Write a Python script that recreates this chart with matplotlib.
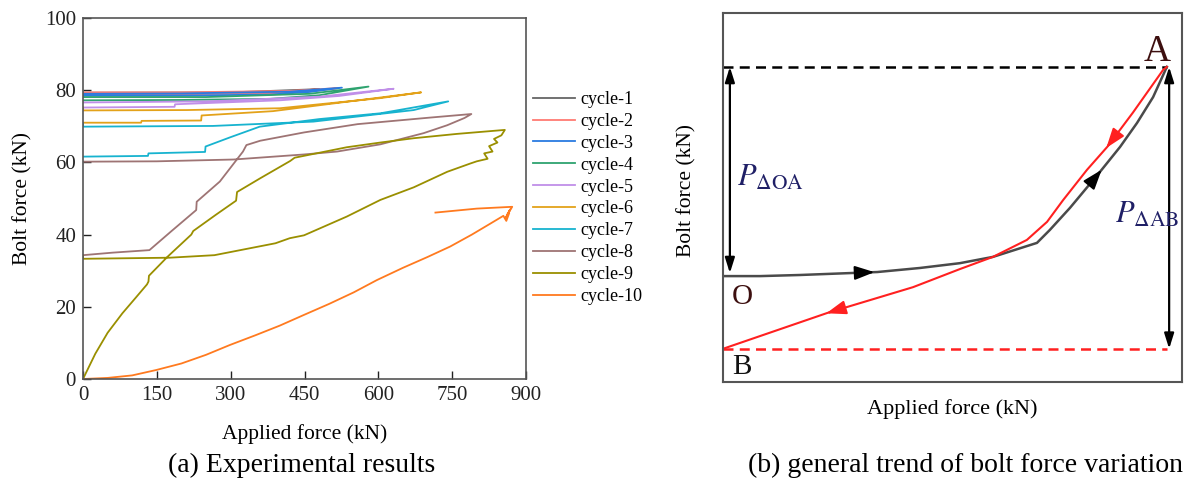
import numpy as np
import matplotlib
matplotlib.use("Agg")
import matplotlib.pyplot as plt
from matplotlib.patches import ArrowStyle

plt.rcParams['font.family'] = ['Liberation Serif', 'DejaVu Serif']
plt.rcParams['mathtext.fontset'] = 'stix'

# ---------------- (a) experimental cycles: applied force (kN) vs bolt force (kN)
cycle_names = [f"cycle-{i}" for i in range(1, 11)]
cycle_colors = ['#666666', '#ff7b73', '#2a7be0', '#2ea36f', '#c08fe8',
                '#e3a21a', '#17b3cf', '#9e7474', '#9a8f00', '#ff7a1f']

c1_x = [0, 200, 400, 480, 300, 0]
c1_y = [79.0, 79.0, 79.4, 80.3, 79.4, 79.3]
c2_x = [0, 200, 400, 470, 520, 420, 200, 0]
c2_y = [78.9, 78.9, 79.2, 79.8, 80.6, 79.8, 79.4, 79.4]
c3_x = [0, 200, 380, 460, 526, 420, 200, 0]
c3_y = [78.5, 78.5, 78.8, 79.5, 80.7, 79.6, 79.1, 79.0]
c4_x = [0, 200, 380, 480, 580, 460, 250, 0]
c4_y = [77.2, 77.3, 77.6, 78.6, 81.0, 79.0, 78.1, 78.1]
c5_x = [0, 186, 187, 400, 520, 631, 480, 250, 0]
c5_y = [75.2, 75.4, 76.1, 77.2, 78.4, 80.4, 78.2, 76.9, 76.6]
c6_x = [0, 118, 119, 240, 241, 386, 536, 687, 604, 400, 211, 0, 0]
c6_y = [71.0, 71.0, 71.5, 71.6, 73.0, 74.2, 76.8, 79.4, 77.8, 75.0, 74.5, 74.4, 75.2]
c7_x = [0, 132, 133, 248, 249, 300, 359, 480, 604, 742, 672, 468, 264, 0, 0]
c7_y = [61.6, 61.8, 62.5, 62.9, 64.4, 67.0, 69.9, 72.0, 73.6, 76.9, 74.5, 71.3,
        70.1, 69.9, 70.8]
c8_x = [0, 60, 135, 180, 230, 231, 278, 325, 332, 360, 449, 558, 704, 789,
        775, 740, 692, 604, 516, 449, 306, 150, 0]
c8_y = [34.3, 35.0, 35.7, 41.0, 46.8, 49.1, 54.7, 63.0, 64.8, 66.0, 68.3, 70.6,
        72.4, 73.4, 72.3, 70.3, 68.1, 65.0, 63.0, 62.2, 60.8, 60.3, 60.2]
c9_x = [0, 25, 50, 80, 107, 130, 133, 134, 172, 220, 224, 270, 311, 313, 360,
        421, 430, 536, 604, 672, 760, 857,
        850, 835, 842, 825, 832, 815, 822, 800, 787,
        740, 672, 604, 536, 449, 420, 391, 267, 176, 0, 0]
c9_y = [0, 7.0, 12.8, 18.2, 22.5, 26.2, 27.0, 28.6, 33.9, 40.0, 41.0, 45.5,
        49.4, 51.8, 55.6, 60.4, 61.3, 64.2, 65.5, 66.7, 67.9, 69.0,
        67.5, 66.5, 65.5, 64.5, 63.0, 62.5, 61.0, 60.3, 59.7,
        57.4, 53.1, 49.6, 45.0, 39.8, 39.0, 37.6, 34.3, 33.6, 33.3, 34.2]
c10_x = [0, 50, 100, 149, 200, 250, 298, 350, 400, 448, 500, 550, 597, 650,
         700, 746, 790, 827, 854, 860, 866, 858, 868, 862, 872, 800, 716]
c10_y = [0, 0.3, 1.0, 2.5, 4.3, 6.7, 9.4, 12.1, 14.8, 17.7, 20.8, 24.0, 27.4,
         30.8, 33.8, 36.7, 40.0, 43.0, 45.2, 43.8, 46.0, 44.5, 47.0, 45.5,
         47.7, 47.2, 46.1]

cycles_x = [c1_x, c2_x, c3_x, c4_x, c5_x, c6_x, c7_x, c8_x, c9_x, c10_x]
cycles_y = [c1_y, c2_y, c3_y, c4_y, c5_y, c6_y, c7_y, c8_y, c9_y, c10_y]

# ---------------- (b) schematic (normalised units 0-100)
load_x = [0, 8.1, 16.8, 33.6, 42.9, 51.6, 58.8, 68.4, 71.2, 75.6, 82.1, 86.5,
          90.2, 93.7, 96.7]
load_y = [28.7, 28.7, 29.0, 29.8, 30.9, 32.2, 33.9, 37.7, 41.2, 47.2, 56.9,
          63.7, 70.2, 77.2, 85.4]
unload_x = [96.7, 95.9, 89.3, 83.7, 79.3, 74.1, 70.6, 66.2, 58.8, 51.6, 41.4,
            22.7, 0]
unload_y = [85.4, 84.6, 73.0, 63.7, 57.5, 49.3, 43.4, 38.5, 33.9, 30.6, 25.7,
            18.7, 9.0]
level_A = 85.4
level_O = 28.7
level_B = 9.0

fig = plt.figure(figsize=(11.92, 4.86), dpi=100)

# ---- left panel
ax1 = fig.add_axes([83 / 1192, 1 - 379 / 486, 443 / 1192, 361 / 486])
for xs, ys, name, col in zip(cycles_x, cycles_y, cycle_names, cycle_colors):
    ax1.plot(xs, ys, color=col, lw=1.3, label=name)
ax1.set_xlim(0, 900)
ax1.set_ylim(0, 100)
ax1.set_xticks(np.arange(0, 901, 150))
ax1.set_yticks(np.arange(0, 101, 20))
ax1.tick_params(direction='in', length=6, width=1, labelsize=15, pad=5,
                colors='#222222')
for sp in ax1.spines.values():
    sp.set_linewidth(1.2)
    sp.set_color('#555555')
ax1.set_xlabel('Applied force (kN)', fontsize=15.5)
ax1.set_ylabel('Bolt force (kN)', fontsize=15.5)
ax1.xaxis.set_label_coords(0.5, -0.125)
ax1.yaxis.set_label_coords(-0.115, 0.5)
ax1.legend(loc='upper left', bbox_to_anchor=(533 / 1192, 1 - 91 / 486),
           bbox_transform=fig.transFigure, frameon=False, fontsize=13,
           handlelength=2.3, handletextpad=0.3, labelspacing=0.27,
           borderpad=0, borderaxespad=0)

# ---- right panel
ax2 = fig.add_axes([723 / 1192, 1 - 382 / 486, 459 / 1192, 369 / 486])
ax2.set_xlim(0, 100)
ax2.set_ylim(0, 100)
ax2.set_xticks([])
ax2.set_yticks([])
for sp in ax2.spines.values():
    sp.set_linewidth(1.5)
    sp.set_color('#555555')

ax2.plot([0, load_x[-1]], [level_A, level_A], color='k', lw=1.8,
         linestyle=(0, (4, 2.5)))
ax2.plot([0, load_x[-1]], [level_B, level_B], color='#ff2020', lw=1.8,
         linestyle=(0, (4, 2.5)))
ax2.plot(load_x, load_y, color='#4a4a4a', lw=1.8)
ax2.plot(unload_x, unload_y, color='#ff2020', lw=1.5)

dbl = ArrowStyle('<|-|>', head_length=0.7, head_width=0.22)
ax2.annotate('', xy=(1.5, level_A), xytext=(1.5, level_O + 0.8),
             arrowprops=dict(arrowstyle=dbl, color='k', lw=1.6,
                             shrinkA=0, shrinkB=0, mutation_scale=13))
ax2.annotate('', xy=(97.2, level_A), xytext=(97.2, level_B),
             arrowprops=dict(arrowstyle=dbl, color='k', lw=1.6,
                             shrinkA=0, shrinkB=0, mutation_scale=13))


def curve_arrow(ax, xs, ys, x_at, color, forward=True):
    order = np.argsort(xs)
    xa = np.asarray(xs)[order]
    ya = np.asarray(ys)[order]
    d = 1.5 if forward else -1.5
    y0 = np.interp(x_at - d, xa, ya)
    y1 = np.interp(x_at, xa, ya)
    head = ArrowStyle('-|>', head_length=0.85, head_width=0.3)
    ax.annotate('', xy=(x_at, y1), xytext=(x_at - d, y0),
                arrowprops=dict(arrowstyle=head, color=color, lw=1.5,
                                shrinkA=0, shrinkB=0, mutation_scale=14))


curve_arrow(ax2, load_x, load_y, 33.0, 'k', True)
curve_arrow(ax2, load_x, load_y, 82.5, 'k', True)
curve_arrow(ax2, unload_x, unload_y, 83.5, '#ff2020', False)
curve_arrow(ax2, unload_x, unload_y, 22.5, '#ff2020', False)

ax2.text(94.6, 89.5, 'A', fontsize=27, color='#3d0f0f', ha='center', va='center')
ax2.text(4.1, 23.0, 'O', fontsize=21, color='#3d0f0f', ha='center', va='center')
ax2.text(4.1, 4.0, 'B', fontsize=21, color='#111111', ha='center', va='center')
ax2.text(3.0, 55.3, r'$P_{\Delta\mathrm{OA}}$', fontsize=22, color='#1f1f66',
         ha='left', va='center')
ax2.text(85.4, 45.3, r'$P_{\Delta\mathrm{AB}}$', fontsize=22, color='#1f1f66',
         ha='left', va='center')

ax2.set_xlabel('Applied force (kN)', fontsize=16)
ax2.set_ylabel('Bolt force (kN)', fontsize=15.5)
ax2.xaxis.set_label_coords(0.5, -0.046)
ax2.yaxis.set_label_coords(-0.057, 0.52)

fig.text(302 / 1192, 1 - 465 / 486, '(a) Experimental results', fontsize=20,
         ha='center', va='center')
fig.text(966 / 1192, 1 - 465 / 486, '(b) general trend of bolt force variation',
         fontsize=20, ha='center', va='center')

fig.savefig('out.png', dpi=100)
